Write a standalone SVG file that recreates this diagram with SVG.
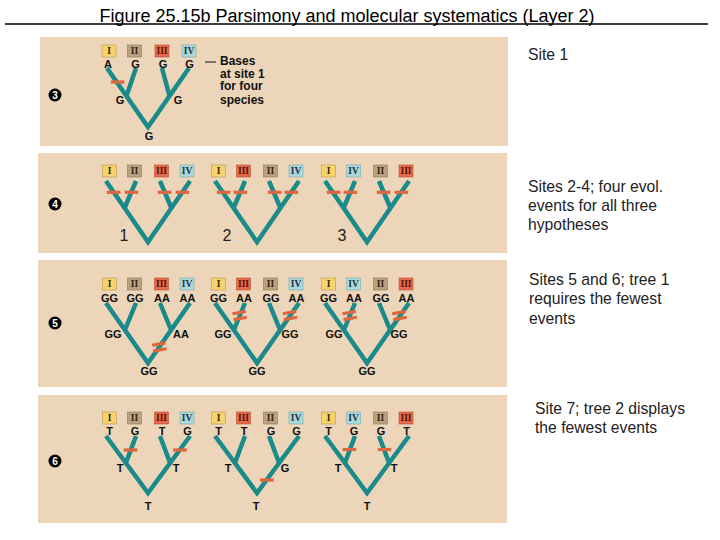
<svg xmlns="http://www.w3.org/2000/svg" xmlns:xlink="http://www.w3.org/1999/xlink" width="720" height="540" viewBox="0 0 720 540">
<style>
.panel{fill:#ECD5B8}
.br{fill:none;stroke:#1B8A8A;stroke-width:4.5;stroke-linejoin:miter;stroke-miterlimit:10}
.bar{fill:#E0663F}
.rn{font-family:"Liberation Serif","DejaVu Serif",serif;font-weight:bold;font-size:9.5px;text-anchor:middle;fill:#2f2410}
.lt{font-family:"Liberation Sans",Arial,sans-serif;font-weight:bold;font-size:11px;text-anchor:middle;fill:#111}
.rt{font-family:"Liberation Sans",Arial,sans-serif;font-size:15.7px;fill:#222}
.tl{font-family:"Liberation Sans",Arial,sans-serif;font-size:16px;text-anchor:middle;fill:#222}
.bases{font-family:"Liberation Sans",Arial,sans-serif;font-weight:bold;font-size:12px;fill:#111}
.numc{fill:#000}
.numt{font-family:"Liberation Sans",Arial,sans-serif;font-weight:bold;font-size:10px;text-anchor:middle;fill:#fff}
.title{font-family:"Liberation Sans",Arial,sans-serif;font-size:18px;text-anchor:middle;fill:#000}
</style>
<defs>
<g id="bI"><rect x="-7" y="0" width="14" height="12" fill="#F6D36B" stroke="#B8975A" stroke-width="0.6"/><text x="0" y="9.2" class="rn">I</text></g>
<g id="bII"><rect x="-7" y="0" width="14" height="12" fill="#BBA27E" stroke="#8E7A5C" stroke-width="0.6"/><text x="0" y="9.2" class="rn">II</text></g>
<g id="bIII"><rect x="-7" y="0" width="14" height="12" fill="#E5694A" stroke="#B8503A" stroke-width="0.6"/><text x="0" y="9.2" class="rn" style="fill:#5a1208">III</text></g>
<g id="bIV"><rect x="-7" y="0" width="14" height="12" fill="#A9D9DA" stroke="#7FA9AC" stroke-width="0.6"/><text x="0" y="9.2" class="rn" style="fill:#1f3040">IV</text></g>
<rect id="bar" class="bar" x="-6.8" y="-1.6" width="13.6" height="3.2"/>
<g id="dbar"><g transform="rotate(-10)"><rect class="bar" x="-6.8" y="-4.6" width="13.6" height="3.2"/><rect class="bar" x="-6.8" y="1.4" width="13.6" height="3.2"/></g></g>
</defs>

<rect width="720" height="540" fill="#fff"/>

<g id="title">
<text class="title" x="347" y="21.5">Figure 25.15b  Parsimony and molecular systematics (Layer 2)</text>
<line x1="5" y1="24" x2="708" y2="24" stroke="#000" stroke-width="1.6"/>
</g>

<g id="panels">
<rect class="panel" x="40" y="37" width="468" height="109"/>
<rect class="panel" x="38" y="153" width="469" height="100"/>
<rect class="panel" x="38" y="260" width="469" height="127"/>
<rect class="panel" x="38" y="395" width="469" height="128"/>
</g>

<g id="markers">
<g id="m3"><circle class="numc" cx="55" cy="95" r="6.5"/><text class="numt" x="55" y="98.6">3</text></g>
<g id="m4"><circle class="numc" cx="55" cy="204" r="6.5"/><text class="numt" x="55" y="207.6">4</text></g>
<g id="m5"><circle class="numc" cx="55" cy="323" r="6.5"/><text class="numt" x="55" y="326.6">5</text></g>
<g id="m6"><circle class="numc" cx="55" cy="461" r="6.5"/><text class="numt" x="55" y="464.6">6</text></g>
</g>

<g id="connectors">
<path class="br" d="M107,68 L148,127 L189,68 M136,68 L126.5,96 M162,68 L169.5,96"/>
<path class="br" d="M106,181 L148,242 L190,181 M136,181 L124.6,208 M160,181 L171.4,208"/>
<path class="br" d="M215,181 L257,242 L299,181 M245,181 L233.6,208 M269,181 L280.4,208"/>
<path class="br" d="M325,181 L367,242 L409,181 M355,181 L343.6,208 M379,181 L390.4,208"/>
<path class="br" d="M106,303 L148,363 L190,303 M136,303 L124.9,330 M160,303 L171.1,330"/>
<path class="br" d="M215,303 L257,363 L299,303 M245,303 L233.9,330 M269,303 L280.1,330"/>
<path class="br" d="M325,303 L367,363 L409,303 M355,303 L343.9,330 M379,303 L390.1,330"/>
<path class="br" d="M106,436 L148,493 L190,436 M136,436 L125.9,463 M160,436 L170.1,463"/>
<path class="br" d="M215,436 L257,493 L299,436 M245,436 L234.9,463 M269,436 L279.1,463"/>
<path class="br" d="M325,436 L367,493 L409,436 M355,436 L344.9,463 M379,436 L389.1,463"/>
</g>

<g id="panel3">
<use href="#bI" x="109" y="45"/><use href="#bII" x="134.5" y="45"/><use href="#bIII" x="162" y="45"/><use href="#bIV" x="189" y="45"/>
<text class="lt" x="108" y="67.5">A</text><text class="lt" x="135.5" y="67.5">G</text><text class="lt" x="163" y="67.5">G</text><text class="lt" x="189.5" y="67.5">G</text>
<text class="lt" x="120" y="103.5">G</text><text class="lt" x="178" y="103.5">G</text><text class="lt" x="149" y="140">G</text>
<use href="#bar" x="117.7" y="82"/>
<line x1="205" y1="62" x2="216" y2="62" stroke="#111" stroke-width="1"/>
<text class="bases" x="220" y="65">Bases</text>
<text class="bases" x="220" y="77.7">at site 1</text>
<text class="bases" x="220" y="90.4">for four</text>
<text class="bases" x="220" y="103.8">species</text>
</g>

<g id="panel4">
<g id="t4-1">
<use href="#bI" x="109.5" y="165"/><use href="#bII" x="134.5" y="165"/><use href="#bIII" x="161.5" y="165"/><use href="#bIV" x="187" y="165"/>
<use href="#bar" x="113.6" y="192.3"/><use href="#bar" x="131.4" y="192.3"/><use href="#bar" x="164.6" y="192.3"/><use href="#bar" x="182.4" y="192.3"/>
<text class="tl" x="124" y="241">1</text>
</g>
<g id="t4-2">
<use href="#bI" x="218.5" y="165"/><use href="#bIII" x="243.5" y="165"/><use href="#bII" x="270.5" y="165"/><use href="#bIV" x="296" y="165"/>
<use href="#bar" x="223.6" y="192.3"/><use href="#bar" x="240.4" y="192.3"/><use href="#bar" x="274.6" y="192.3"/><use href="#bar" x="291.4" y="192.3"/>
<text class="tl" x="227" y="241">2</text>
</g>
<g id="t4-3">
<use href="#bI" x="328.5" y="165"/><use href="#bIV" x="353.5" y="165"/><use href="#bII" x="380.5" y="165"/><use href="#bIII" x="406" y="165"/>
<use href="#bar" x="333.6" y="192.3"/><use href="#bar" x="350.4" y="192.3"/><use href="#bar" x="383.6" y="192.3"/><use href="#bar" x="401.4" y="192.3"/>
<text class="tl" x="342" y="241">3</text>
</g>
</g>

<g id="panel5">
<g id="t5-1">
<use href="#bI" x="109.5" y="278"/><use href="#bII" x="134.5" y="278"/><use href="#bIII" x="161.5" y="278"/><use href="#bIV" x="187" y="278"/>
<text class="lt" x="109.5" y="302">GG</text><text class="lt" x="135" y="302">GG</text><text class="lt" x="162" y="302">AA</text><text class="lt" x="187.5" y="302">AA</text>
<text class="lt" x="113" y="338">GG</text><text class="lt" x="181" y="338">AA</text><text class="lt" x="149" y="375">GG</text>
<use href="#dbar" x="159.3" y="347"/>
</g>
<g id="t5-2">
<use href="#bI" x="218.5" y="278"/><use href="#bIII" x="243.5" y="278"/><use href="#bII" x="270.5" y="278"/><use href="#bIV" x="296" y="278"/>
<text class="lt" x="218.5" y="302">GG</text><text class="lt" x="244" y="302">AA</text><text class="lt" x="271" y="302">GG</text><text class="lt" x="296.5" y="302">AA</text>
<text class="lt" x="223" y="338">GG</text><text class="lt" x="290" y="338">GG</text><text class="lt" x="257" y="375">GG</text>
<use href="#dbar" x="239.7" y="315.5"/><use href="#dbar" x="290" y="315.5"/>
</g>
<g id="t5-3">
<use href="#bI" x="328.5" y="278"/><use href="#bIV" x="353.5" y="278"/><use href="#bII" x="380.5" y="278"/><use href="#bIII" x="406" y="278"/>
<text class="lt" x="328.5" y="302">GG</text><text class="lt" x="354" y="302">AA</text><text class="lt" x="381" y="302">GG</text><text class="lt" x="406.5" y="302">AA</text>
<text class="lt" x="334" y="338">GG</text><text class="lt" x="399" y="338">GG</text><text class="lt" x="367" y="375">GG</text>
<use href="#dbar" x="349.7" y="315.5"/><use href="#dbar" x="399.5" y="315.5"/>
</g>
</g>

<g id="panel6">
<g id="t6-1">
<use href="#bI" x="109.5" y="412"/><use href="#bII" x="134.5" y="412"/><use href="#bIII" x="161.5" y="412"/><use href="#bIV" x="187" y="412"/>
<text class="lt" x="109.5" y="435">T</text><text class="lt" x="135" y="435">G</text><text class="lt" x="162" y="435">T</text><text class="lt" x="187.5" y="435">G</text>
<text class="lt" x="120" y="472">T</text><text class="lt" x="176" y="472">T</text><text class="lt" x="148" y="510">T</text>
<use href="#bar" x="130.5" y="450"/><use href="#bar" x="180" y="450"/>
</g>
<g id="t6-2">
<use href="#bI" x="218.5" y="412"/><use href="#bIII" x="243.5" y="412"/><use href="#bII" x="270.5" y="412"/><use href="#bIV" x="296" y="412"/>
<text class="lt" x="218.5" y="435">T</text><text class="lt" x="244" y="435">T</text><text class="lt" x="271" y="435">G</text><text class="lt" x="296.5" y="435">G</text>
<text class="lt" x="228" y="472">T</text><text class="lt" x="285" y="472">G</text><text class="lt" x="256" y="510">T</text>
<use href="#bar" x="267" y="480"/>
</g>
<g id="t6-3">
<use href="#bI" x="328.5" y="412"/><use href="#bIV" x="353.5" y="412"/><use href="#bII" x="380.5" y="412"/><use href="#bIII" x="406" y="412"/>
<text class="lt" x="328.5" y="435">T</text><text class="lt" x="354" y="435">G</text><text class="lt" x="381" y="435">G</text><text class="lt" x="406.5" y="435">T</text>
<text class="lt" x="338" y="472">T</text><text class="lt" x="394" y="472">T</text><text class="lt" x="367" y="510">T</text>
<use href="#bar" x="349.5" y="449.5"/><use href="#bar" x="384.5" y="449.5"/>
</g>
</g>

<g id="notes">
<text class="rt" x="528" y="60">Site 1</text>
<text class="rt" x="528" y="192">Sites 2-4; four evol.</text>
<text class="rt" x="528" y="211">events for all three</text>
<text class="rt" x="528" y="230">hypotheses</text>
<text class="rt" x="529" y="285">Sites 5 and 6; tree 1</text>
<text class="rt" x="529" y="304">requires the fewest</text>
<text class="rt" x="529" y="324">events</text>
<text class="rt" x="535" y="414">Site 7; tree 2 displays</text>
<text class="rt" x="535" y="433">the fewest events</text>
</g>
</svg>
